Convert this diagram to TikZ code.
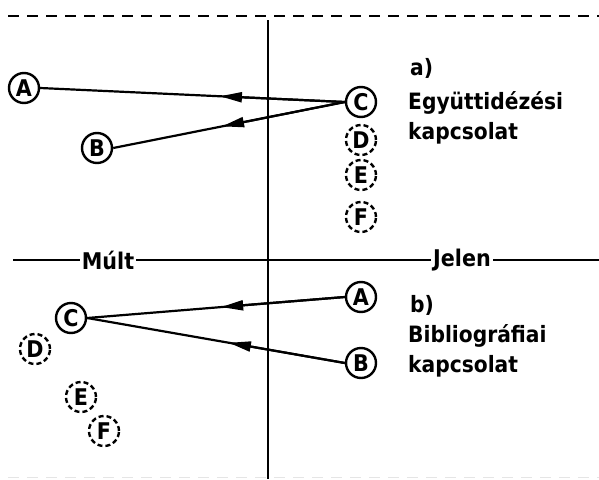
\documentclass[tikz,border=0pt]{standalone}
\usepackage{fontspec}
\setmainfont{DejaVu Sans Condensed}
\usetikzlibrary{arrows.meta,calc}
\tikzstyle{doc}=[shape=circle,minimum size=30pt,inner sep=0,line width=2.4pt,draw,font=\fontsize{23}{23}\selectfont\bfseries]
\tikzstyle{uncited}=[doc,dash pattern=on 5pt off 3pt]
\tikzstyle{link}=[line width=2.2pt]
\tikzstyle{arrow}=[line width=2.2pt,-{Triangle[length=22pt,width=10pt]}]
\tikzstyle{caption}=[anchor=west,align=left,inner sep=0,font=\fontsize{22.5}{30}\selectfont\bfseries]
\tikzstyle{axislabel}=[fill=white,inner sep=2pt,font=\fontsize{23}{23}\selectfont\bfseries]

\begin{document}
\begin{tikzpicture}[x=1pt,y=-1pt]
\useasboundingbox (0,0) rectangle (599,479);

% frame lines
\draw[line width=2.2pt,dash pattern=on 11pt off 8pt] (8,16)--(599,16);
\draw[gray!20,line width=1pt,dash pattern=on 11pt off 8pt] (8,477)--(599,477);
\draw[line width=2.4pt] (268,20)--(268,479);
\draw[line width=2.4pt] (13,260)--(599,260);
\node[axislabel] (past) at (108,260) {Múlt};
\node[axislabel] (now) at (462,260) {Jelen};

% a) co-citation
\node[doc] (A1) at (24,88) {A};
\node[doc] (B1) at (97,148) {B};
\node[doc] (C1) at (361,102) {C};
\foreach \n/\y in {D/140,E/175,F/217}
	\node[uncited] (\n1) at (361,\y) {\n};
\draw[link] (C1.west)--(A1.east);
\draw[link] (C1.west)--(B1.east);
\draw[arrow] (C1.west)--($(C1.west)!0.41!(A1.east)$);
\draw[arrow] (C1.west)--($(C1.west)!0.53!(B1.east)$);
\node[caption] (capa) at (410,68) {a)};
\node[caption] (texta) at (408,118) {Együttidézési\\kapcsolat};

% b) bibliographic coupling
\node[doc] (A2) at (361,297) {A};
\node[doc] (B2) at (361,363) {B};
\node[doc] (C2) at (71,318) {C};
\foreach \n/\x/\y in {D/35/349,E/81/397,F/104/431}
	\node[uncited] (\n2) at (\x,\y) {\n};
\draw[link] (A2.west)--(C2.east);
\draw[link] (B2.west)--(C2.east);
\draw[arrow] (A2.west)--($(A2.west)!0.48!(C2.east)$);
\draw[arrow] (B2.west)--($(B2.west)!0.45!(C2.east)$);
\node[caption] (capb) at (410,305) {b)};
\node[caption] (textb) at (408,351) {Bibliográfiai\\kapcsolat};
\end{tikzpicture}
\end{document}
